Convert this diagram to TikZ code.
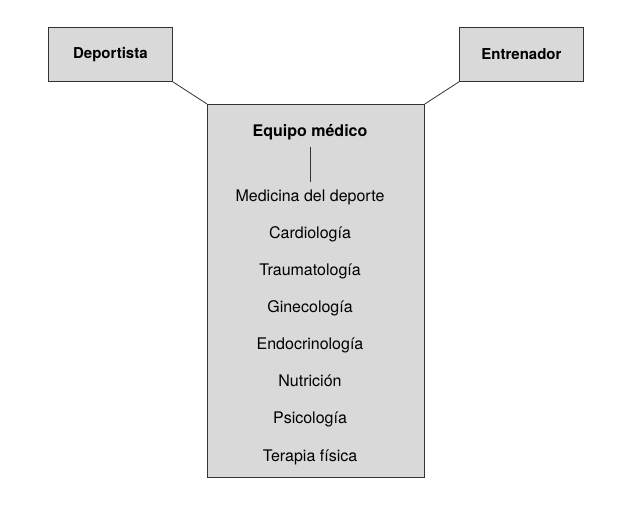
\documentclass[tikz,border=0pt]{standalone}
\usepackage{fontspec}
\setmainfont{TeX Gyre Heros}
\definecolor{boxgray}{HTML}{D9D9D9}
\begin{document}
\begin{tikzpicture}[x=1pt,y=-1pt,
  box/.style={draw=black!80,fill=boxgray,line width=0.8pt},
  item/.style={font=\fontsize{16}{18}\selectfont,inner sep=0pt,anchor=base},
  conn/.style={draw=black!80,line width=0.8pt}]
\useasboundingbox (0,0) rectangle (620,504);
\node[box,minimum width=124pt,minimum height=54pt,anchor=north west,font=\bfseries\fontsize{15}{18}\selectfont] (dep) at (48,27) {Deportista};
\node[box,minimum width=124pt,minimum height=54pt,anchor=north west,font=\bfseries\fontsize{15}{18}\selectfont] (ent) at (459,27) {Entrenador};
\node[box,minimum width=217pt,minimum height=373pt,anchor=north west] (eq) at (207,104) {};
\draw[conn] (dep.south east) -- (eq.north west);
\draw[conn] (ent.south west) -- (eq.north east);
\node[item,font=\bfseries\fontsize{16}{18}\selectfont] (title) at (310,136) {Equipo médico};
\coordinate (lt) at (310,147);
\coordinate (lb) at (310,182);
\draw[conn] (lt) -- (lb);
\node[item] (i1) at (310,201) {Medicina del deporte};
\node[item] (i2) at (310,238) {Cardiología};
\node[item] (i3) at (310,275) {Traumatología};
\node[item] (i4) at (310,312) {Ginecología};
\node[item] (i5) at (310,349) {Endocrinología};
\node[item] (i6) at (310,386) {Nutrición};
\node[item] (i7) at (310,423) {Psicología};
\node[item] (i8) at (310,461) {Terapia física};
\end{tikzpicture}
\end{document}
